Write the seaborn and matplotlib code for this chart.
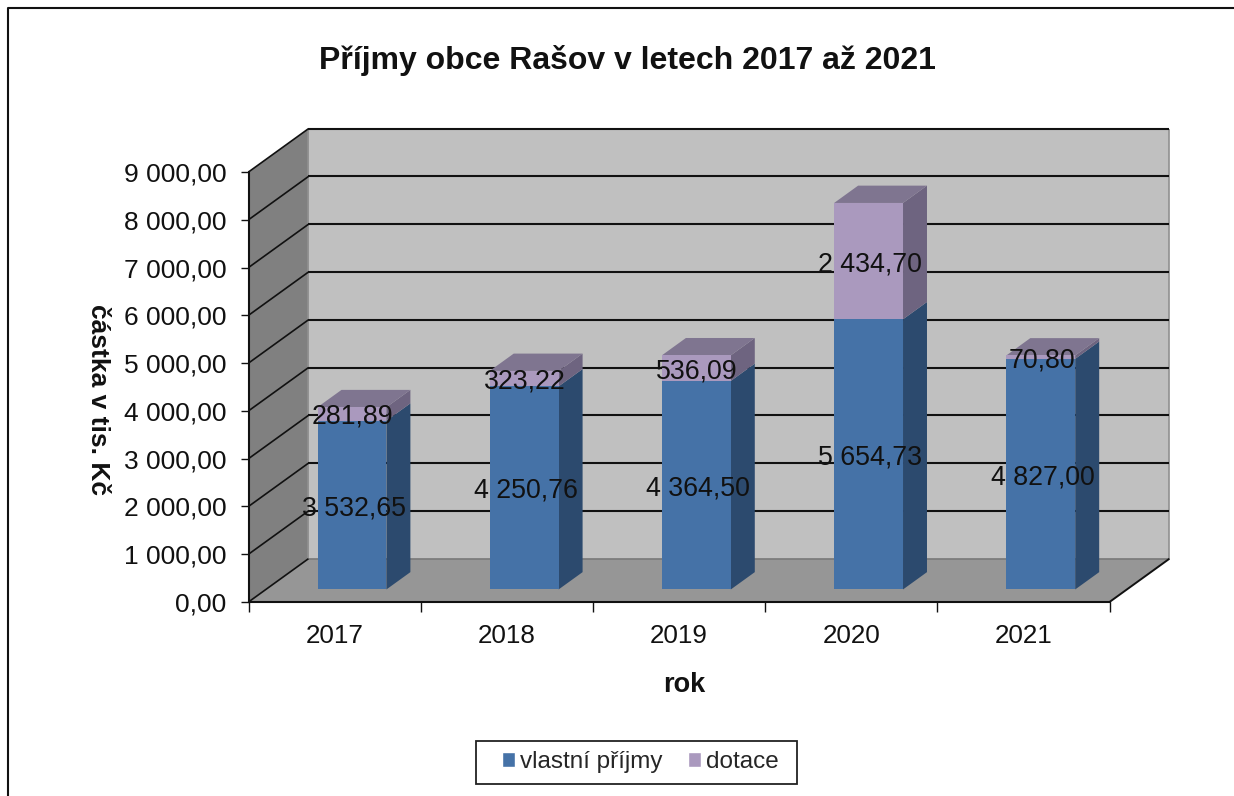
import matplotlib
matplotlib.use("Agg")
import matplotlib.pyplot as plt
import seaborn as sns
from matplotlib.lines import Line2D
from matplotlib.patches import Patch, Polygon, Rectangle
from matplotlib.transforms import Affine2D

YEARS = ["2017", "2018", "2019", "2020", "2021"]
OWN_INCOME = [3532.65, 4250.76, 4364.50, 5654.73, 4827.00]
GRANTS = [281.89, 323.22, 536.09, 2434.70, 70.80]
OWN_LABELS = ["3 532,65", "4 250,76", "4 364,50", "5 654,73", "4 827,00"]
GRANT_LABELS = ["281,89", "323,22", "536,09", "2 434,70", "70,80"]
Y_TICKS = [0, 1000, 2000, 3000, 4000, 5000, 6000, 7000, 8000, 9000]
Y_LABELS = ["0,00", "1 000,00", "2 000,00", "3 000,00", "4 000,00",
            "5 000,00", "6 000,00", "7 000,00", "8 000,00", "9 000,00"]

W, H = 1234, 796
BLUE, BLUE_SIDE = "#4572a7", "#2c4a6e"
PURPLE, PURPLE_SIDE, PURPLE_TOP = "#aa99be", "#6e6480", "#7f7590"

# oblique projection of the fake 3D box, in data units
DEPTH_X = 0.348
DEPTH_Y = 906
BAR_NEAR = 0.29
BAR_FAR = 0.69
BAR_WIDTH = 0.4


def proj(x, y, d):
    return (x + d * DEPTH_X, y + d * DEPTH_Y)


sns.set_theme(style="ticks")
plt.rcParams["font.family"] = ["Liberation Sans", "DejaVu Sans"]

fig = plt.figure(figsize=(W / 100, H / 100), dpi=100)
ax = fig.add_axes([248.5 / W, 1 - 602 / H, 861 / W, 430 / H])
ax.patch.set_visible(False)

sns.barplot(x=YEARS, y=OWN_INCOME, color=BLUE, saturation=1, width=BAR_WIDTH, ax=ax, zorder=5)
sns.barplot(x=YEARS, y=GRANTS, bottom=OWN_INCOME, color=PURPLE, saturation=1, width=BAR_WIDTH, ax=ax, zorder=5)
ax.set_xlim(-0.5, 4.5)
ax.set_ylim(0, 9000)

# push the front faces back to the middle of the floor
shift = Affine2D().translate(BAR_NEAR * DEPTH_X, BAR_NEAR * DEPTH_Y) + ax.transData
for bar in ax.patches:
    bar.set_transform(shift)
    bar.set_clip_on(False)
    bar.set_linewidth(0)


def face(points, color, z=1, edge="none", lw=0):
    ax.add_patch(Polygon(points, closed=True, facecolor=color, edgecolor=edge, linewidth=lw,
                         zorder=z, clip_on=False))


def line(points, color="#111111", lw=1.5, z=2):
    xs, ys = zip(*points)
    ax.plot(xs, ys, color=color, lw=lw, zorder=z, clip_on=False, solid_capstyle="butt")


# walls and floor
face([proj(-0.5, 0, 1), proj(4.5, 0, 1), proj(4.5, 9000, 1), proj(-0.5, 9000, 1)], "#c0c0c0")
face([proj(-0.5, 0, 0), proj(-0.5, 0, 1), proj(-0.5, 9000, 1), proj(-0.5, 9000, 0)], "#808080")
face([proj(-0.5, 0, 0), proj(4.5, 0, 0), proj(4.5, 0, 1), proj(-0.5, 0, 1)], "#969696")
line([proj(-0.5, 0, 1), proj(-0.5, 9000, 1)], "#909090", 1.2)
line([proj(4.5, 0, 1), proj(4.5, 9000, 1)], "#909090", 1.2)
line([proj(-0.5, 0, 1), proj(4.5, 0, 1)], "#7a7a7a", 1.2)

for tick in Y_TICKS:
    if tick > 0:
        line([proj(-0.5, tick, 1), proj(4.5, tick, 1)])
    line([proj(-0.5, tick, 0), proj(-0.5, tick, 1)], lw=1.2)
line([proj(4.5, 0, 0), proj(4.5, 0, 1)], lw=1.4)

# bar sides and tops
for i, (own, grant) in enumerate(zip(OWN_INCOME, GRANTS)):
    left, right = i - BAR_WIDTH / 2, i + BAR_WIDTH / 2
    total = own + grant
    face([proj(right, 0, BAR_NEAR), proj(right, 0, BAR_FAR), proj(right, own, BAR_FAR), proj(right, own, BAR_NEAR)],
         BLUE_SIDE, 4)
    face([proj(right, own, BAR_NEAR), proj(right, own, BAR_FAR), proj(right, total, BAR_FAR), proj(right, total, BAR_NEAR)],
         PURPLE_SIDE, 4)
    face([proj(left, total, BAR_NEAR), proj(right, total, BAR_NEAR), proj(right, total, BAR_FAR), proj(left, total, BAR_FAR)],
         PURPLE_TOP, 4)
    cx = proj(i, 0, BAR_NEAR)[0]
    ax.text(cx + 0.01, proj(0, own / 2, BAR_NEAR)[1], OWN_LABELS[i], ha="center", va="center_baseline",
            fontsize=19.3, color="#111111", zorder=8, clip_on=False)
    ax.text(cx + 0.005, proj(0, own + grant / 2, BAR_NEAR)[1], GRANT_LABELS[i], ha="center", va="center_baseline",
            fontsize=19.3, color="#111111", zorder=8, clip_on=False)

# front axis lines
for side in ("top", "right"):
    ax.spines[side].set_visible(False)
for side in ("left", "bottom"):
    ax.spines[side].set_linewidth(1.5)
    ax.spines[side].set_color("#111111")
    ax.spines[side].set_zorder(6)

ax.set_yticks(Y_TICKS)
ax.set_yticklabels(Y_LABELS, fontsize=19, color="#111111")
ax.set_xticks([i + 0.5 for i in range(-1, 5)], minor=True)
ax.set_xticks(range(5))
ax.set_xticklabels(YEARS, fontsize=18.7, color="#111111")
ax.tick_params(axis="x", which="major", bottom=False, length=0, pad=16)
ax.tick_params(axis="x", which="minor", bottom=True, length=7.5, width=1, color="#111111")
ax.tick_params(axis="y", which="major", left=True, length=5.6, width=1, color="#111111", pad=10.5)
ax.set_xlabel("")
ax.set_ylabel("")

fig.text(627 / W, 1 - 61 / H, "Příjmy obce Rašov v letech 2017 až 2021", ha="center", va="center",
         fontsize=23, fontweight="bold", color="#111111")
fig.text(684 / W, 1 - 685 / H, "rok", ha="center", va="center",
         fontsize=19.5, fontweight="bold", color="#111111")
fig.text(98 / W, 1 - 399 / H, "částka v tis. Kč", ha="center", va="center", rotation=-90,
         fontsize=19, fontweight="bold", color="#111111")

# legend box is drawn apart since its paddings are uneven
fig.add_artist(Rectangle((476 / W, 1 - 784 / H), 321 / W, 43 / H, transform=fig.transFigure,
                         facecolor="white", edgecolor="#222222", linewidth=1.3))
handles = [Patch(facecolor=BLUE, label="vlastní příjmy"), Patch(facecolor=PURPLE, label="dotace")]
leg = fig.legend(handles=handles, ncol=2, loc="center left", bbox_to_anchor=(502 / W, 1 - 762 / H),
                 fontsize=17.5, frameon=False, handlelength=0.54, handleheight=0.54,
                 handletextpad=0.2, columnspacing=1.03, borderpad=0, borderaxespad=0)
leg.set_zorder(5)

# outer chart border
fig.add_artist(Line2D([8 / W, 8 / W, 1], [0, 1 - 8 / H, 1 - 8 / H], color="#111111", lw=1.5))

fig.savefig("out.png", dpi=100)
